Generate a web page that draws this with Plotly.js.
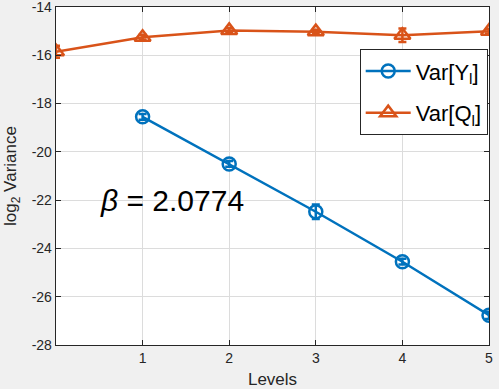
<!DOCTYPE html>
<html>
<head>
<meta charset="utf-8">
<script src="https://cdn.plot.ly/plotly-3.0.1.min.js"></script>
<style>html,body{margin:0;padding:0;background:#f0f0f0;}</style>
</head>
<body>
<div id="chart" style="width:499px;height:389px;"></div>
<script>
const levelsY = [1, 2, 3, 4, 5];
const varY = [-18.55, -20.5, -22.48, -24.55, -26.77];
const errY = [0.12, 0.12, 0.3, 0.12, 0.15];
const levelsQ = [0, 1, 2, 3, 4, 5];
const varQ = [-15.85, -15.25, -14.97, -15.02, -15.17, -15.0];
const errQ = [0.25, 0.1, 0.1, 0.08, 0.28, 0.1];
const xTicks = [1, 2, 3, 4, 5];
const yTicks = [-28, -26, -24, -22, -20, -18, -16, -14];
const betaText = '<i>β</i> = 2.0774';

const FONT = 'Liberation Sans, Arial, sans-serif';
const blue = '#0072BD', orange = '#D95319';
const traces = [
  {x: levelsY, y: varY, name: 'Var[Y<sub>l</sub>]', legendgroup: 'a', mode: 'lines+markers', type: 'scatter',
   line: {color: blue, width: 2.5},
   marker: {symbol: 'circle-open', size: 13, color: blue, line: {width: 2.5}},
   error_y: {type: 'data', array: errY, visible: true, color: blue, thickness: 2.5, width: 4}},
  {x: levelsQ, y: varQ, name: 'Var[Q<sub>l</sub>]', legendgroup: 'b', mode: 'lines+markers', type: 'scatter',
   line: {color: orange, width: 2.5},
   marker: {symbol: 'triangle-up-open', size: 14, color: orange, line: {width: 2.5}},
   error_y: {type: 'data', array: errQ, visible: true, color: orange, thickness: 2.5, width: 4}}
];
const axCommon = {
  showline: true, linecolor: '#262626', linewidth: 1.3, mirror: 'ticks',
  ticks: 'inside', ticklen: 5, tickcolor: '#262626',
  showgrid: true, gridcolor: '#dcdcdc', gridwidth: 1, zeroline: false,
  ticklabeloverflow: 'allow',
  tickfont: {family: FONT, size: 14, color: '#262626'}
};
const layout = {
  width: 499, height: 389,
  paper_bgcolor: '#f0f0f0', plot_bgcolor: '#ffffff',
  margin: {l: 56, r: 10, t: 7, b: 44},
  showlegend: true,
  legend: {x: 0.997, y: 0.875, xanchor: 'right', yanchor: 'top', bgcolor: '#ffffff',
           bordercolor: '#262626', borderwidth: 1, itemwidth: 45,
           traceorder: 'grouped', tracegroupgap: 10,
           font: {family: FONT, size: 22, color: '#000'}},
  xaxis: Object.assign({}, axCommon, {range: [0, 5], tickvals: xTicks, ticktext: xTicks.map(String),
    title: {text: 'Levels', standoff: 8, font: {family: FONT, size: 17, color: '#262626'}}}),
  yaxis: Object.assign({}, axCommon, {range: [-28, -14], tickvals: yTicks, ticktext: yTicks.map(String),
    title: {text: 'log<sub>2</sub> Variance', standoff: 10, font: {family: FONT, size: 17, color: '#262626'}}}),
  annotations: [{x: 0.48, y: -22, xref: 'x', yref: 'y', text: betaText, showarrow: false,
    xanchor: 'left', yanchor: 'middle',
    font: {family: FONT, size: 30, color: '#000'}}]
};
Plotly.newPlot('chart', traces, layout, {displayModeBar: false, staticPlot: true});
</script>
</body>
</html>
